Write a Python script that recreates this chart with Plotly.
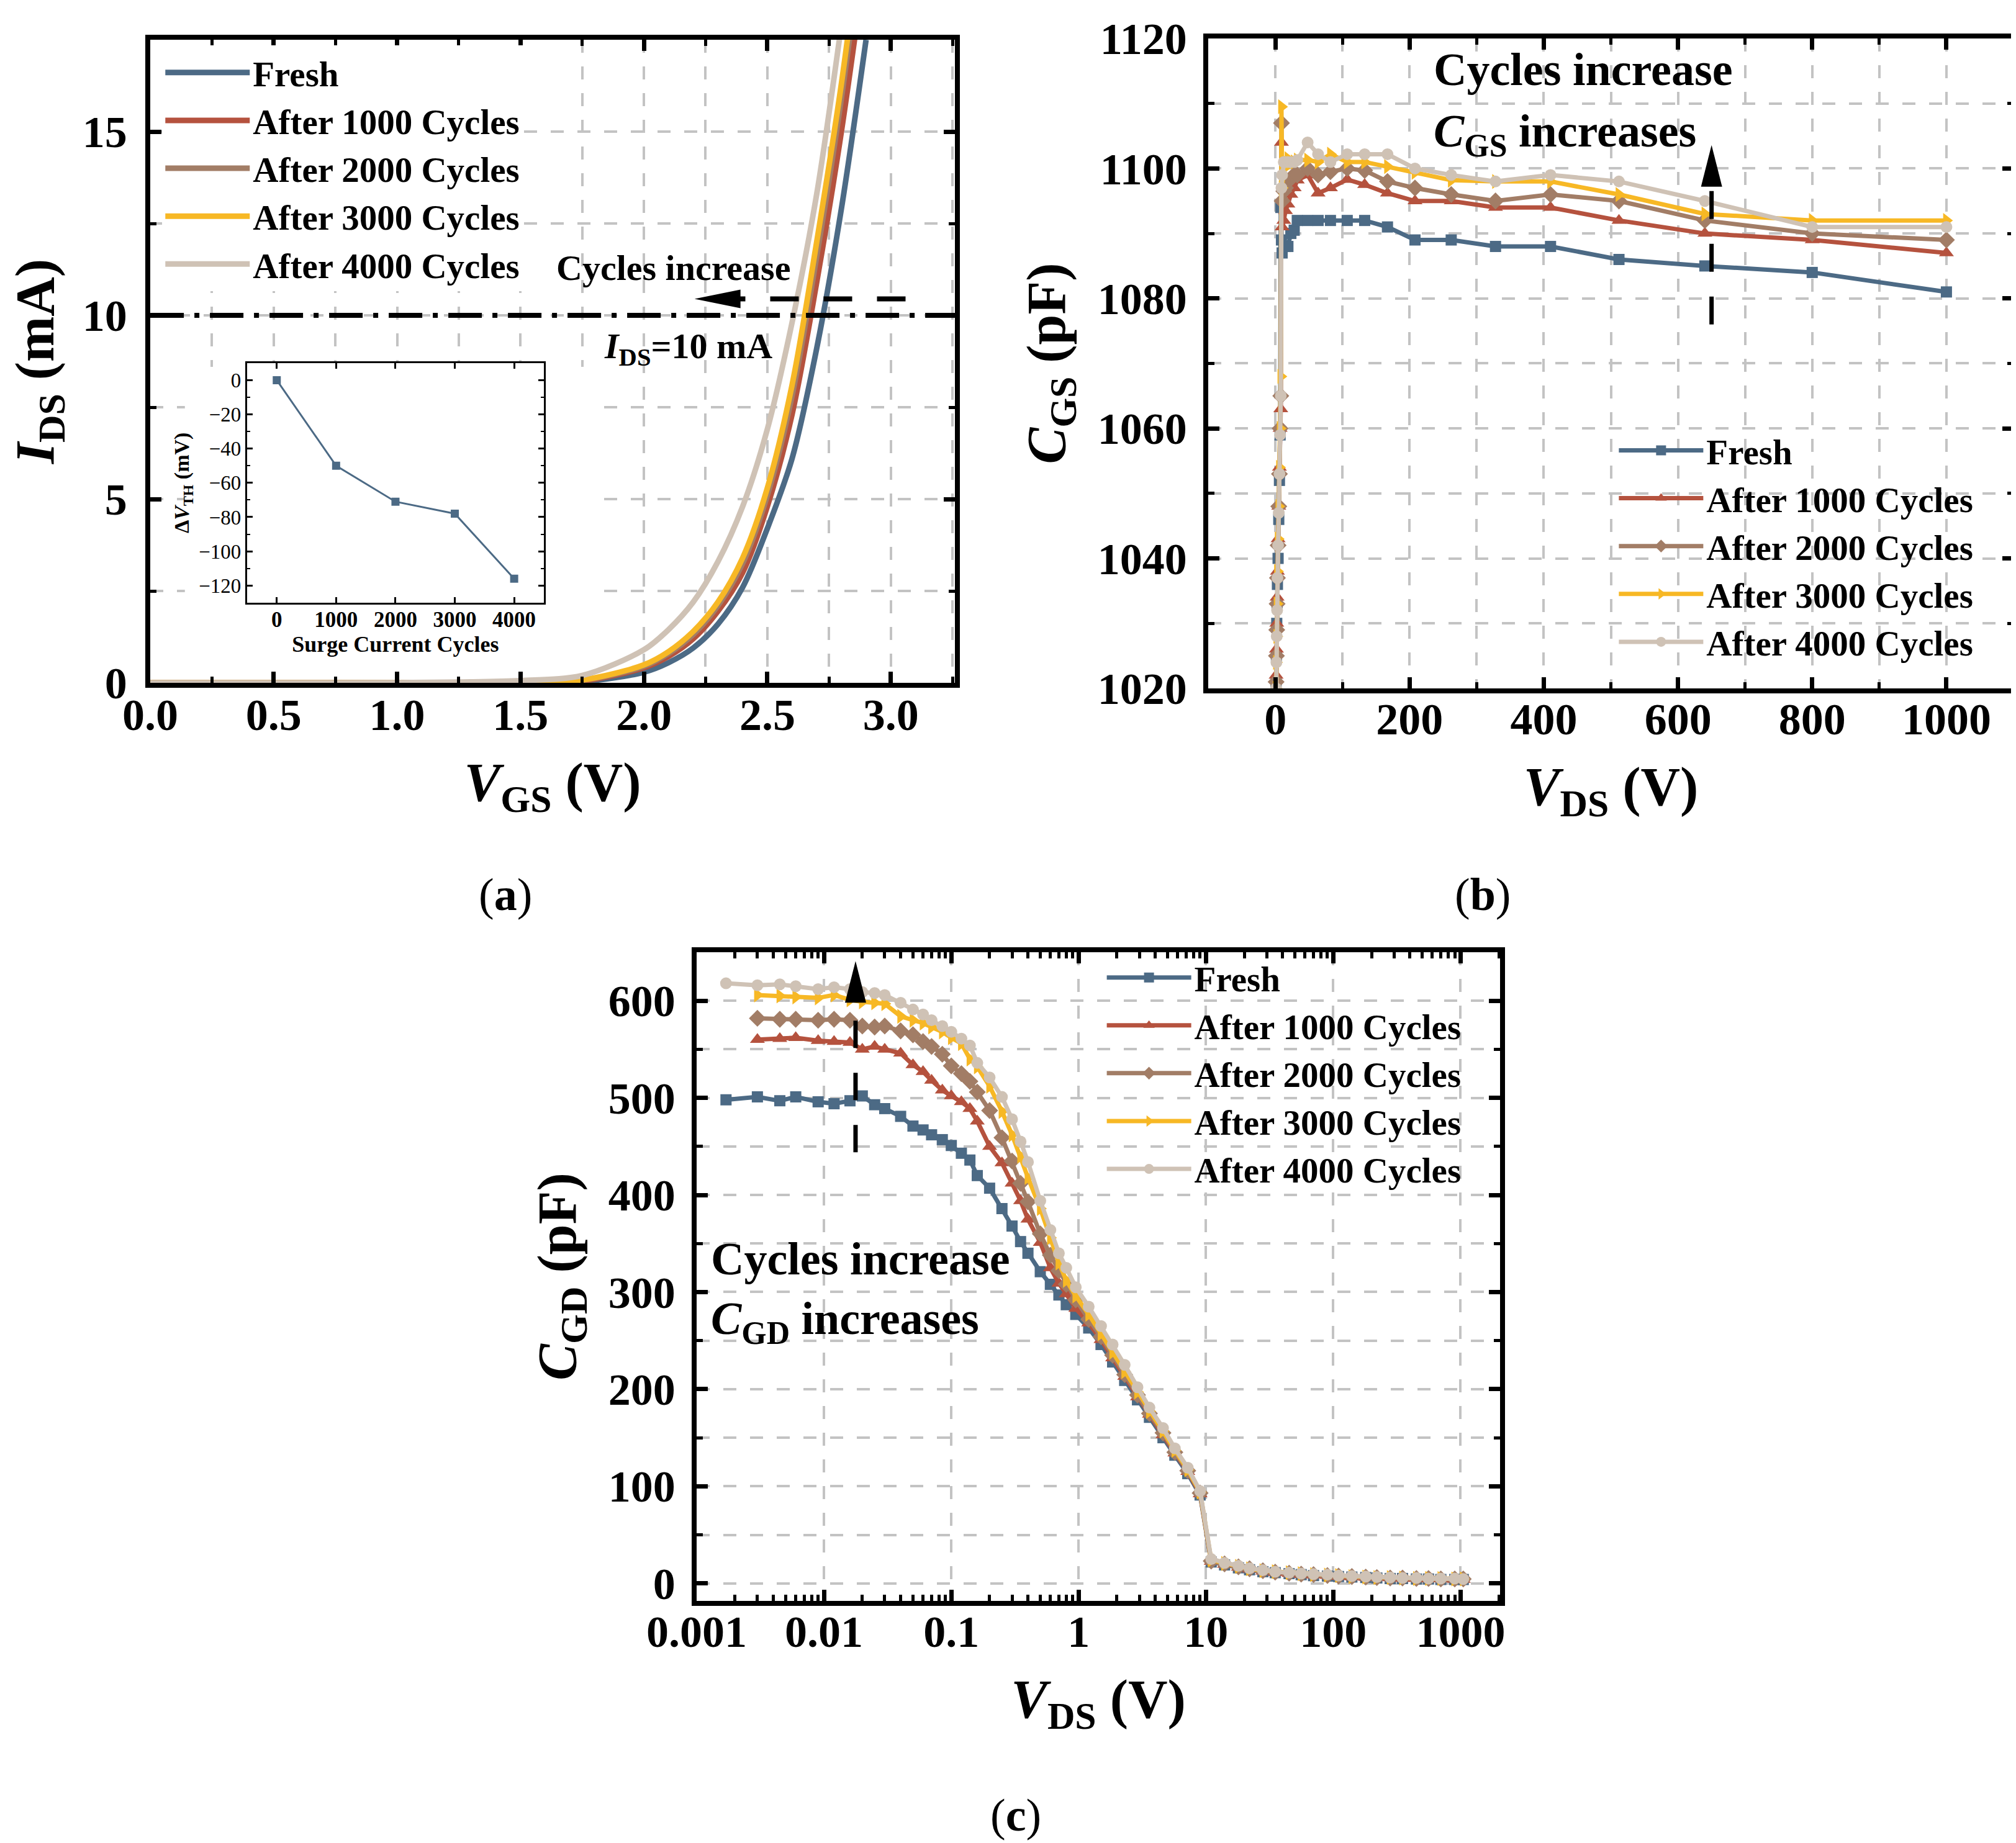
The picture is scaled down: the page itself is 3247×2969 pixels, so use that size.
import plotly.graph_objects as go

# ---------------- data ----------------
series_names = ["Fresh", "After 1000 Cycles", "After 2000 Cycles",
                "After 3000 Cycles", "After 4000 Cycles"]
colors = ["#4C6A85", "#B5523E", "#A27D66", "#F7B825", "#CFC2B5"]
symbols = ["square", "triangle-up", "diamond", "triangle-right", "circle"]
marker_sizes = [18, 21, 21, 21, 19]

# (a) transfer curves, I_DS (mA) vs V_GS (V)
vgs = [0, 0.5, 1.0, 1.25, 1.5, 1.75, 2.0, 2.1, 2.2, 2.3, 2.4, 2.5, 2.6, 2.7, 2.8, 2.9]
ids_fresh = [0, 0, 0, 0, 0.005, 0.03, 0.29, 0.55, 0.95, 1.6, 2.6, 4.2, 6.1, 9.1, 12.9, 17.5]
ids_1000 = [0, 0, 0, 0.003, 0.01, 0.05, 0.41, 0.72, 1.2, 1.95, 3.0, 4.8, 7.3, 10.9, 15.0, 19.8]
ids_2000 = [0, 0, 0, 0.004, 0.015, 0.07, 0.45, 0.8, 1.32, 2.1, 3.25, 5.1, 7.8, 11.6, 15.9, 21.0]
ids_3000 = [0, 0, 0, 0.005, 0.02, 0.08, 0.49, 0.85, 1.4, 2.2, 3.4, 5.3, 8.1, 12.0, 16.3, 21.5]
ids_4000 = [0, 0, 0.005, 0.02, 0.06, 0.2, 0.9, 1.45, 2.2, 3.3, 4.8, 6.9, 9.8, 13.3, 17.9, 23.0]

# inset: threshold shift vs surge cycles
surge_cycles = [0, 1000, 2000, 3000, 4000]
dvth_mv = [0, -50, -71, -78, -116]

# (b) C_GS (pF) vs V_DS (V)
vds_b = [0.5, 1, 1.5, 2, 2.5, 3, 4, 5, 6, 7, 8, 9, 10, 12.5, 15, 18.6, 23, 28, 32.6,
         48, 63.6, 82, 107, 133, 167, 208, 262, 328, 410, 512, 640, 800, 1000]
cgs_fresh = [1014, 1021, 1025, 1030, 1033, 1036, 1040, 1046, 1052, 1059, 1094, 1089, 1087,
             1088, 1088, 1088, 1090, 1090.5, 1092, 1092, 1092, 1092, 1092, 1092, 1091, 1089,
             1089, 1088, 1088, 1086, 1085, 1084, 1081]
cgs_1000 = [1015, 1022, 1026, 1030, 1034, 1038, 1043, 1048, 1054, 1060, 1063, 1104, 1091,
            1092, 1093.5, 1094.5, 1096, 1097, 1098.2, 1099, 1096.2, 1097, 1098.3, 1097.5,
            1096.2, 1095, 1095, 1094, 1094, 1092, 1090, 1089, 1087]
cgs_2000 = [1015, 1021, 1025, 1029, 1033, 1037, 1042, 1048, 1053, 1060, 1065, 1107, 1095,
            1096.5, 1097, 1098, 1098.5, 1099, 1099, 1100, 1099, 1099.5, 1100, 1099.7, 1098,
            1097, 1096, 1095, 1096, 1095, 1092, 1090, 1089]
cgs_3000 = [1014, 1020, 1024, 1028, 1033, 1038, 1043, 1048, 1054, 1060, 1068, 1109.5, 1097,
            1100, 1101, 1101.5, 1101, 1101, 1101.3, 1101.3, 1101, 1102.2, 1101, 1101, 1100.3,
            1099.4, 1098.2, 1098, 1098, 1096, 1093, 1092, 1092]
cgs_4000 = [1014, 1020, 1024, 1028, 1032, 1037, 1042, 1047, 1053, 1059, 1065, 1097, 1099,
            1101, 1101, 1101, 1101, 1101, 1101.3, 1104, 1102.2, 1101, 1102.2, 1102.2, 1102.2,
            1100, 1099, 1098, 1099, 1098, 1095, 1091, 1091]

# (c) C_GD (pF) vs V_DS (V), log x
vds_c = [0.0017, 0.003, 0.0045, 0.006, 0.009, 0.012, 0.016, 0.02, 0.025, 0.03,
         0.04, 0.05, 0.06, 0.07, 0.085, 0.1, 0.12, 0.14, 0.16, 0.2,
         0.25, 0.3, 0.35, 0.4, 0.5, 0.6, 0.7, 0.8, 0.95, 1.2,
         1.5, 1.85, 2.3, 2.9, 3.6, 4.6, 5.7, 7.2, 9.0, 11,
         14, 18, 22, 28, 35, 45, 56, 70, 90, 110,
         140, 180, 220, 280, 350, 450, 560, 700, 900, 1050]
cgd_fresh = [498, 501, 497, 501, 496, 494, 497, 502, 493, 489,
             481, 471, 467, 462, 457, 451, 443, 436, 420, 407,
             386, 368, 352, 340, 321, 308, 297, 287, 277, 263,
             246, 228, 209, 189, 171, 150, 132, 113, 91, 22,
             19, 16, 14, 12, 11, 10, 9, 8, 7.5, 7,
             6.5, 6, 5.5, 5, 5, 4.5, 4.5, 4, 4, 4]
cgd_1000 = [None, 560, 561, 562, 559, 558, 557, 550, 553, 550,
            546, 534, 527, 518, 508, 502, 496, 489, 476, 450,
            433, 412, 394, 375, 351, 325, 309, 298, 283, 268,
            251, 232, 213, 192, 174, 153, 134, 115, 92, 22.5,
            19.5, 16.5, 14.5, 12.5, 11, 10, 9, 8.5, 8, 7,
            6.5, 6, 6, 5.5, 5, 5, 4.5, 4.5, 4, 4]
cgd_2000 = [None, 582, 581, 581, 580, 581, 580, 574, 573, 574,
            569, 565, 558, 553, 545, 533, 525, 517, 506, 487,
            459, 435, 412, 393, 360, 338, 322, 308, 292, 272,
            254, 235, 215, 194, 175, 155, 135, 116, 93, 23,
            20, 17, 15, 13, 11.5, 10.5, 9.5, 9, 8, 7.5,
            7, 6.5, 6, 5.5, 5.5, 5, 5, 4.5, 4.5, 4.5]
cgd_3000 = [None, 606, 605, 604, 603, 606, 601, 599, 598, 597,
            584, 580, 577, 573, 568, 562, 556, 540, 532, 512,
            486, 462, 440, 418, 386, 356, 330, 312, 296, 277,
            257, 238, 218, 197, 177, 157, 137, 117, 94, 24,
            20.5, 17.5, 15, 13, 12, 11, 10, 9, 8.5, 8,
            7, 6.5, 6, 6, 5.5, 5, 5, 5, 4.5, 4.5]
cgd_4000 = [618, 616, 617, 615, 612, 614, 612, 609, 608, 606,
            598, 591, 586, 580, 574, 568, 561, 554, 536, 521,
            501, 478, 455, 434, 394, 364, 340, 325, 305, 285,
            265, 246, 225, 202, 181, 160, 139, 119, 95, 25,
            21, 18, 15.5, 13.5, 12, 11, 10, 9.5, 9, 8,
            7.5, 7, 6.5, 6, 5.5, 5.5, 5, 5, 5, 4.5]

log_tick_vals = [0.001, 0.01, 0.1, 1, 10, 100, 1000]
log_tick_text = ["0.001", "0.01", "0.1", "1", "10", "100", "1000"]

ids_all = [ids_fresh, ids_1000, ids_2000, ids_3000, ids_4000]
cgs_all = [cgs_fresh, cgs_1000, cgs_2000, cgs_3000, cgs_4000]
cgd_all = [cgd_fresh, cgd_1000, cgd_2000, cgd_3000, cgd_4000]

FONT = "Liberation Serif"
GRID = "#C3C3C3"
GDASH = "21px,22px"

fig = go.Figure()

# (a) curves
for name, col, ids in zip(series_names, colors, ids_all):
    fig.add_trace(go.Scatter(x=vgs, y=ids, name=name, mode="lines",
                             line=dict(color=col, width=9, shape="spline", smoothing=0.9),
                             xaxis="x", yaxis="y", legend="legend"))

# (b) curves
for name, col, sym, ms, cgs in zip(series_names, colors, symbols, marker_sizes, cgs_all):
    fig.add_trace(go.Scatter(x=vds_b, y=cgs, name=name, mode="lines+markers",
                             line=dict(color=col, width=7),
                             marker=dict(symbol=sym, size=ms, color=col),
                             xaxis="x2", yaxis="y2", legend="legend2"))

# (c) curves
for name, col, sym, ms, cgd in zip(series_names, colors, symbols, marker_sizes, cgd_all):
    fig.add_trace(go.Scatter(x=vds_c, y=cgd, name=name, mode="lines+markers",
                             line=dict(color=col, width=7),
                             marker=dict(symbol=sym, size=ms, color=col),
                             xaxis="x3", yaxis="y3", legend="legend3"))

# inset
fig.add_trace(go.Scatter(x=surge_cycles, y=dvth_mv, mode="lines+markers",
                         line=dict(color=colors[0], width=3),
                         marker=dict(symbol="square", size=13, color=colors[0]),
                         xaxis="x4", yaxis="y4", showlegend=False))


def axis(domain, anchor, rng, title, standoff, **kw):
    d = dict(domain=domain, anchor=anchor, range=rng, automargin=False,
             showline=True, linewidth=8, linecolor="black", mirror="ticks",
             ticks="inside", ticklen=18, tickwidth=7, tickcolor="black",
             showgrid=True, gridcolor=GRID, griddash=GDASH, gridwidth=3.5,
             zeroline=False, ticklabelstandoff=12,
             tickfont=dict(family=FONT, size=72, color="black", weight="bold"),
             title=dict(text=title, standoff=standoff,
                        font=dict(family=FONT, size=88, color="black", weight="bold")))
    d.update(kw)
    return d


minor_lin = lambda dt: dict(dtick=dt, ticks="inside", ticklen=10, tickwidth=5, tickcolor="black",
                            showgrid=True, gridcolor=GRID, griddash=GDASH, gridwidth=3.5)

log_minor = [m * 10.0 ** e for e in range(-3, 4) for m in range(2, 10)]

legend_font = dict(family=FONT, size=57, color="black", weight="bold")

fig.update_layout(
    width=3247, height=2969, margin=dict(l=0, r=0, t=0, b=0, autoexpand=False),
    paper_bgcolor="white", plot_bgcolor="white",
    xaxis=axis([0.0721, 0.4712], "y", [0, 3.26], "<i>V</i><sub>GS</sub> (V)", 40,
               dtick=0.5, tick0=0, tickformat=".1f", minor=minor_lin(0.25),
               ticklabelstandoff=-18),
    yaxis=axis([0.6322, 0.9811], "x", [0, 17.5], "<i>I</i><sub>DS</sub> (mA)", 22,
               dtick=5, tick0=0, minor=minor_lin(2.5), ticklabelstandoff=15),
    xaxis2=axis([0.5969, 0.9963], "y2", [-100, 1100], "<i>V</i><sub>DS</sub> (V)", 40,
                dtick=200, tick0=0, minor=minor_lin(100), ticklabelstandoff=-20),
    yaxis2=axis([0.6292, 0.9818], "x2", [1020, 1120], "<i>C</i><sub>GS</sub> (pF)", 26,
                dtick=20, tick0=1020, minor=minor_lin(10)),
    xaxis3=axis([0.3431, 0.7416], "y3", [-3, 3.31], "<i>V</i><sub>DS</sub> (V)", 40,
                type="log", tickmode="array", tickvals=log_tick_vals, ticktext=log_tick_text,
                ticklabelstandoff=-20,
                minor=dict(tickmode="array", tickvals=log_minor, ticks="inside", ticklen=10,
                           tickwidth=5, tickcolor="black", showgrid=False)),
    yaxis3=axis([0.1341, 0.4860], "x3", [-18, 650], "<i>C</i><sub>GD</sub> (pF)", 26,
                dtick=100, tick0=0, minor=minor_lin(50)),
    xaxis4=dict(domain=[0.1201, 0.2673], anchor="y4", range=[-500, 4500], automargin=False,
                showline=True, linewidth=3, linecolor="black", mirror="ticks",
                ticks="inside", ticklen=9, tickwidth=3, tickcolor="black",
                showgrid=False, zeroline=False, dtick=1000, tick0=0, ticklabelstandoff=-6,
                tickfont=dict(family=FONT, size=35, color="black", weight="bold"),
                title=dict(text="Surge Current Cycles", standoff=0,
                           font=dict(family=FONT, size=36, color="black", weight="bold"))),
    yaxis4=dict(domain=[0.6757, 0.8057], anchor="x4", range=[-130, 10], automargin=False,
                showline=True, linewidth=3, linecolor="black", mirror="ticks",
                ticks="inside", ticklen=9, tickwidth=3, tickcolor="black",
                showgrid=False, zeroline=False, dtick=20, tick0=0,
                minor=dict(dtick=10, ticks="inside", ticklen=5, tickwidth=2, tickcolor="black"),
                tickfont=dict(family=FONT, size=33, color="black"),
                title=dict(text="Δ<i>V</i><sub>TH</sub> (mV)", standoff=6,
                           font=dict(family=FONT, size=34, color="black", weight="bold"))),
    legend=dict(x=0.078, y=0.978, xanchor="left", yanchor="top", bgcolor="white",
                font=legend_font, itemwidth=136, tracegroupgap=0),
    legend2=dict(x=0.799, y=0.773, xanchor="left", yanchor="top", bgcolor="rgba(0,0,0,0)",
                 font=legend_font, itemwidth=136, tracegroupgap=0),
    legend3=dict(x=0.545, y=0.487, xanchor="left", yanchor="top", bgcolor="rgba(0,0,0,0)",
                 font=legend_font, itemwidth=136, tracegroupgap=0),
)

shapes = [
    # blank area behind the inset
    dict(type="rect", xref="x", yref="y", x0=0.14, x1=1.83, y0=0, y1=8.6,
         fillcolor="white", line=dict(width=0), layer="between"),
    # I_DS = 10 mA reference line
    dict(type="line", xref="x domain", yref="y", x0=0, x1=1, y0=10, y1=10,
         line=dict(color="black", width=8, dash="54px,17px,8px,17px")),
    # (a) arrow
    dict(type="line", xref="x", yref="y", x0=3.06, x1=2.387, y0=10.45, y1=10.45,
         line=dict(color="black", width=8, dash="46px,40px")),
    dict(type="path", xref="x", yref="y", xsizemode="pixel", ysizemode="pixel",
         xanchor=2.205, yanchor=10.45, path="M0,0 L74,15 L74,-15 Z",
         fillcolor="black", line=dict(width=0)),
    # (b) arrow
    dict(type="line", xref="x2", yref="y2", x0=650, x1=650, y0=1076, y1=1097,
         line=dict(color="black", width=7, dash="45px,40px")),
    dict(type="path", xref="x2", yref="y2", xsizemode="pixel", ysizemode="pixel",
         xanchor=650, yanchor=1103.6, path="M0,0 L-17,-67 L17,-67 Z",
         fillcolor="black", line=dict(width=0)),
    # (c) arrow
    dict(type="line", xref="x3", yref="y3", x0=0.0177, x1=0.0177, y0=444, y1=580,
         line=dict(color="black", width=7, dash="44px,40px")),
    dict(type="path", xref="x3", yref="y3", xsizemode="pixel", ysizemode="pixel",
         xanchor=0.0177, yanchor=641, path="M0,0 L-17,-67 L17,-67 Z",
         fillcolor="black", line=dict(width=0)),
]
fig.update_layout(shapes=shapes)

ann_font_a = dict(family=FONT, size=58, color="black", weight="bold")
ann_font_bc = dict(family=FONT, size=74, color="black", weight="bold")
lab_font = dict(family=FONT, size=74, color="black")

annotations = [
    dict(text="Cycles increase", x=2.12, y=11.3, xref="x", yref="y",
         showarrow=False, font=ann_font_a),
    dict(text="<i>I</i><sub>DS</sub>=10 mA", x=2.18, y=9.1, xref="x", yref="y",
         showarrow=False, font=ann_font_a),
    dict(text="Cycles increase", x=234, y=1115.2, xref="x2", yref="y2", xanchor="left",
         showarrow=False, font=ann_font_bc),
    dict(text="<i>C</i><sub>GS</sub> increases", x=234, y=1105.2, xref="x2", yref="y2",
         xanchor="left", showarrow=False, font=ann_font_bc),
    dict(text="Cycles increase", x=0.016, y=334, xref="x3 domain", yref="y3", xanchor="left",
         showarrow=False, font=ann_font_bc),
    dict(text="<i>C</i><sub>GD</sub> increases", x=0.016, y=269, xref="x3 domain", yref="y3",
         xanchor="left", showarrow=False, font=ann_font_bc),
    dict(text="(<b>a</b>)", x=0.2345, y=0.5175, xref="paper", yref="paper",
         yanchor="middle", showarrow=False, font=lab_font),
    dict(text="(<b>b</b>)", x=0.7475, y=0.5175, xref="paper", yref="paper",
         yanchor="middle", showarrow=False, font=lab_font),
    dict(text="(<b>c</b>)", x=0.5014, y=0.0179, xref="paper", yref="paper",
         yanchor="middle", showarrow=False, font=lab_font),
]
fig.update_layout(annotations=annotations)

fig.write_html("out.html")
